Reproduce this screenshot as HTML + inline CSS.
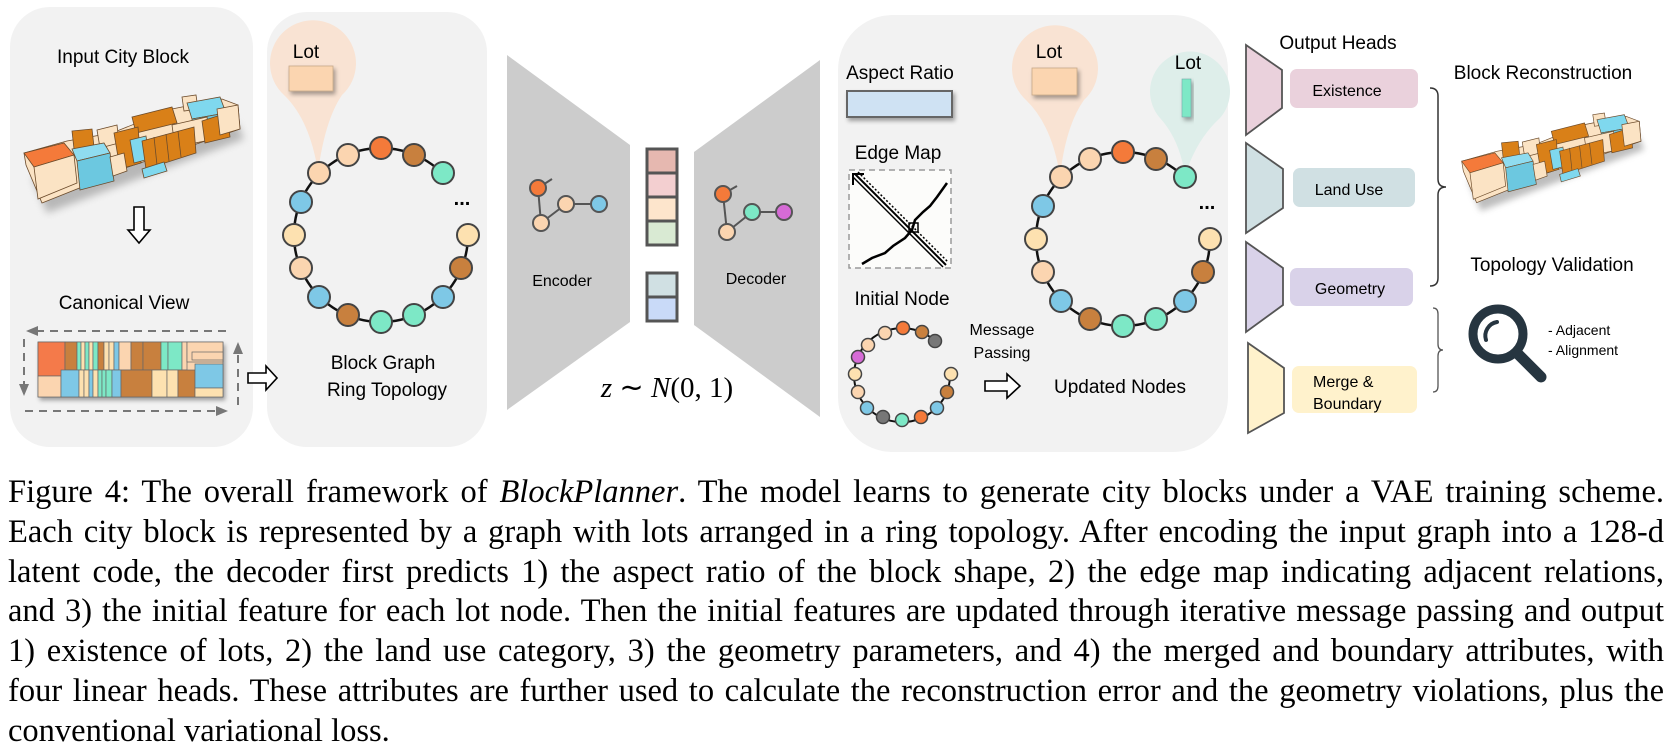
<!DOCTYPE html>
<html><head><meta charset="utf-8">
<style>
html,body{margin:0;padding:0;background:#fff;}
body{width:1671px;height:753px;position:relative;overflow:hidden;}
svg{position:absolute;left:0;top:0;}
.cap{position:absolute;left:8px;top:473px;width:1656px;font-family:"Liberation Serif",serif;font-size:32.5px;line-height:39.8px;color:#000;}
.cap div{text-align:justify;text-align-last:justify;white-space:nowrap;}
.cap div.l{text-align-last:left;}
</style></head><body>
<svg width="1671" height="460" viewBox="0 0 1671 460" font-family="Liberation Sans, sans-serif">
<defs>
<filter id="bl" x="-20%" y="-20%" width="140%" height="160%"><feGaussianBlur stdDeviation="4"/></filter>
<filter id="sh" x="-30%" y="-30%" width="160%" height="160%"><feDropShadow dx="2" dy="3" stdDeviation="2" flood-color="#000" flood-opacity="0.35"/></filter>
<g id="blk" stroke="#6b4a2a" stroke-width="0.8">
<polygon points="10,82 215,28 222,44 25,118" fill="#888" opacity="0.55" filter="url(#bl)" stroke="none"/>
<polygon points="2,58 45,46 90,38 150,14 200,4 216,10 218,34 160,54 100,74 60,92 20,108 4,70" fill="#fbe3c4"/>
<polygon points="160,2 174,0 176,14 162,16" fill="#fbe3c4"/>
<polygon points="165,8 198,2 204,18 170,24" fill="#7fd8ee"/>
<polygon points="170,24 204,18 206,32 172,38" fill="#6cc8e0"/>
<polygon points="110,22 150,12 155,28 114,38" fill="#d98018"/>
<polygon points="75,35 95,30 97,48 78,53" fill="#fbe3c4"/>
<polygon points="50,36 70,34 72,52 52,54" fill="#d98018"/>
<polygon points="150,30 185,22 188,45 153,52" fill="#fbe3c4"/>
<polygon points="180,26 205,18 208,42 183,48" fill="#d98018"/>
<polygon points="195,14 216,10 218,34 198,40" fill="#fbe3c4"/>
<polygon points="92,38 116,32 119,68 98,74" fill="#d98018"/>
<polygon points="108,45 124,41 127,64 112,68" fill="#7fd8ee"/>
<polygon points="120,46 172,32 174,58 124,74" fill="#d98018"/>
<line x1="132" y1="42" x2="135" y2="70"/><line x1="144" y1="39" x2="147" y2="66"/><line x1="156" y1="36" x2="159" y2="62"/>
<polygon points="120,74 142,67 145,76 122,83" fill="#7fd8ee"/>
<polygon points="2,58 42,48 52,60 12,72" fill="#f47a3a"/>
<polygon points="12,72 52,60 55,88 16,104" fill="#fbe3c4"/>
<polygon points="50,54 82,48 88,58 55,66" fill="#8fdcf0"/>
<polygon points="55,66 88,58 92,86 58,95" fill="#6cc8e0"/>
<polygon points="88,62 102,58 105,76 91,81" fill="#fbe3c4"/>
</g>
<g id="ring">
<path d="M87,0 A87,87 0 1 1 61.5,-61.5" fill="none" stroke="#111" stroke-width="2.5"/>
<g stroke="#444" stroke-width="2">
<circle cx="0" cy="-87" r="11" fill="#f47a3a"/>
<circle cx="33" cy="-80" r="11" fill="#c8803e"/>
<circle cx="62" cy="-62" r="11" fill="#7de8c6"/>
<circle cx="87" cy="0" r="11" fill="#fde1b0"/>
<circle cx="80" cy="33" r="11" fill="#c8803e"/>
<circle cx="62" cy="62" r="11" fill="#7ec8e6"/>
<circle cx="33" cy="80" r="11" fill="#7de8c6"/>
<circle cx="0" cy="87" r="11" fill="#7de8c6"/>
<circle cx="-33" cy="80" r="11" fill="#c8803e"/>
<circle cx="-62" cy="62" r="11" fill="#7ec8e6"/>
<circle cx="-80" cy="33" r="11" fill="#fbd5b0"/>
<circle cx="-87" cy="0" r="11" fill="#fde1b0"/>
<circle cx="-80" cy="-33" r="11" fill="#7ec8e6"/>
<circle cx="-62" cy="-62" r="11" fill="#fbd5b0"/>
<circle cx="-33" cy="-80" r="11" fill="#fbd5b0"/>
</g>
</g>
</defs>

<rect x="10" y="7" width="243" height="440" rx="40" fill="#f2f2f2"/>
<rect x="267" y="12" width="220" height="435" rx="40" fill="#f2f2f2"/>
<rect x="838" y="15" width="390" height="437" rx="55" fill="#f2f2f2"/>

<text x="123" y="63" font-size="19" text-anchor="middle">Input City Block</text>
<use href="#blk" transform="translate(22,95)"/>
<polygon points="134,207 144,207 144,230 150,230 139,243 128,230 134,230" fill="#fff" stroke="#000" stroke-width="1.6"/>
<text x="124" y="309" font-size="19" text-anchor="middle">Canonical View</text>
<g stroke="#666" stroke-width="0.7">
<rect x="38" y="342" width="185" height="55" fill="#fbd5b0" filter="url(#sh)"/>
<rect x="38" y="342" width="27" height="34" fill="#f47a4a"/>
<rect x="65" y="342" width="12" height="28" fill="#c8803e"/>
<rect x="77" y="342" width="4" height="28" fill="#7de8c6"/><rect x="81" y="342" width="4" height="28" fill="#fde1b0"/><rect x="85" y="342" width="4" height="28" fill="#7de8c6"/><rect x="89" y="342" width="4" height="28" fill="#fde1b0"/><rect x="93" y="342" width="5" height="28" fill="#7de8c6"/><rect x="98" y="342" width="6" height="28" fill="#c8803e"/><rect x="104" y="342" width="5" height="28" fill="#fde1b0"/><rect x="109" y="342" width="5" height="28" fill="#fde1b0"/><rect x="114" y="342" width="5" height="28" fill="#7ec8e6"/>
<rect x="119" y="342" width="12" height="28" fill="#fbd5b0"/><rect x="131" y="342" width="12" height="28" fill="#c8803e"/><rect x="143" y="342" width="18" height="28" fill="#c8803e"/>
<rect x="161" y="342" width="7" height="28" fill="#7de8c6"/><rect x="168" y="342" width="14" height="28" fill="#7de8c6"/><rect x="182" y="342" width="5" height="28" fill="#fbd5b0"/>
<rect x="187" y="342" width="36" height="20" fill="#fbd5b0"/><rect x="192" y="352" width="31" height="8" fill="#fbd5b0"/>
<rect x="38" y="376" width="23" height="21" fill="#fbd5b0"/>
<rect x="61" y="370" width="18" height="27" fill="#7ec8e6"/><rect x="79" y="370" width="5" height="27" fill="#fde1b0"/><rect x="84" y="370" width="5" height="27" fill="#fde1b0"/><rect x="89" y="370" width="4" height="27" fill="#7ec8e6"/><rect x="93" y="370" width="5" height="27" fill="#fde1b0"/><rect x="98" y="370" width="4" height="27" fill="#7de8c6"/><rect x="102" y="370" width="4" height="27" fill="#7de8c6"/><rect x="106" y="370" width="6" height="27" fill="#7de8c6"/><rect x="112" y="370" width="9" height="27" fill="#7ec8e6"/>
<rect x="121" y="370" width="31" height="27" fill="#c8803e"/><rect x="152" y="370" width="15" height="27" fill="#fde1b0"/><rect x="167" y="370" width="11" height="27" fill="#fde1b0"/><rect x="178" y="370" width="17" height="27" fill="#c8803e"/>
<rect x="195" y="364" width="28" height="24" fill="#7ec8e6"/><rect x="195" y="388" width="28" height="9" fill="#fde1b0"/>
</g>
<g stroke="#777" stroke-width="2" stroke-dasharray="8,6" fill="none">
<line x1="36" y1="331" x2="228" y2="331"/><line x1="24" y1="339" x2="24" y2="385"/>
<line x1="25" y1="411" x2="216" y2="411"/><line x1="238" y1="355" x2="238" y2="405"/>
</g>
<g fill="#777"><polygon points="26,331 38,326 38,336"/><polygon points="228,411 216,406 216,416"/><polygon points="24,396 19,384 29,384"/><polygon points="238,342 233,354 243,354"/></g>
<polygon points="248,373 266,373 266,366 277,378 266,390 266,383 248,383" fill="#fff" stroke="#000" stroke-width="1.6"/>

<path d="M284,95 A43,43 0 1 1 342,95 Q325,120 318,172 Q310,120 284,95 Z" fill="#f9e3d3"/>
<text x="306" y="58" font-size="19" text-anchor="middle">Lot</text>
<rect x="289" y="66" width="44" height="25" fill="#fbd5b0" stroke="#c9a98a" stroke-width="0.8" filter="url(#sh)"/>
<use href="#ring" transform="translate(381,235)"/>
<rect x="452" y="192" width="35" height="16" fill="#f2f2f2"/>
<text x="462" y="205" font-size="20" text-anchor="middle" font-weight="bold">...</text>
<text x="383" y="369" font-size="19" text-anchor="middle">Block Graph</text>
<text x="387" y="396" font-size="19" text-anchor="middle">Ring Topology</text>

<polygon points="507,55 630,145 630,322 507,410" fill="#cccccc"/>
<polygon points="694,152 820,60 820,417 694,325" fill="#cccccc"/>
<g stroke="#555" stroke-width="2"><line x1="538" y1="188" x2="552" y2="179"/><line x1="538" y1="188" x2="541" y2="223"/><line x1="541" y1="223" x2="566" y2="204"/><line x1="566" y1="204" x2="599" y2="204"/>
<circle cx="538" cy="188" r="8" fill="#f47a3a"/><circle cx="541" cy="223" r="8" fill="#fbd5b0"/><circle cx="566" cy="204" r="8" fill="#fbd5b0"/><circle cx="599" cy="204" r="8" fill="#7ec8e6"/></g>
<g stroke="#555" stroke-width="2"><line x1="723" y1="194" x2="737" y2="186"/><line x1="723" y1="194" x2="727" y2="232"/><line x1="727" y1="232" x2="752" y2="212"/><line x1="752" y1="212" x2="784" y2="212"/>
<circle cx="723" cy="194" r="8" fill="#f47a3a"/><circle cx="727" cy="232" r="8" fill="#fbd5b0"/><circle cx="752" cy="212" r="8" fill="#7de8c6"/><circle cx="784" cy="212" r="8" fill="#d66bd6"/></g>
<text x="562" y="286" font-size="16" text-anchor="middle">Encoder</text>
<text x="756" y="284" font-size="16" text-anchor="middle">Decoder</text>
<g stroke="#555" stroke-width="3">
<rect x="647" y="149" width="30" height="24" fill="#e6b8b0"/><rect x="647" y="173" width="30" height="24" fill="#f3cfd0"/><rect x="647" y="197" width="30" height="24" fill="#fde5cc"/><rect x="647" y="221" width="30" height="24" fill="#d9ead3"/>
<rect x="647" y="273" width="30" height="24" fill="#d0e0e3"/><rect x="647" y="297" width="30" height="24" fill="#c9daf8"/>
</g>
<text x="667" y="397" font-size="29" text-anchor="middle" font-family="Liberation Serif, serif"><tspan font-style="italic">z</tspan> ∼ <tspan font-style="italic">N</tspan>(0, 1)</text>

<text x="900" y="79" font-size="19" text-anchor="middle">Aspect Ratio</text>
<rect x="847" y="91" width="105" height="26" fill="#cfe2f3" stroke="#666" stroke-width="2" filter="url(#sh)"/>
<text x="898" y="159" font-size="19" text-anchor="middle">Edge Map</text>
<rect x="849" y="170" width="102" height="98" fill="#fcfcfa" stroke="#999" stroke-width="1.5" stroke-dasharray="6,4"/>
<g stroke="#000" fill="none">
<line x1="855" y1="174" x2="946" y2="265" stroke-width="2"/><line x1="858" y1="172" x2="948" y2="262" stroke-width="1.5" stroke-dasharray="2,2"/><line x1="853" y1="177" x2="943" y2="267" stroke-width="1.5"/>
<polyline points="862,264 872,258 885,253 893,246 905,238 912,230 915,220 923,212 930,206 937,197 942,190 947,183" stroke-width="2.5"/>
<rect x="909" y="223" width="9" height="9" stroke-width="1.5"/>
<polyline points="853,185 853,174 864,174" stroke-width="2"/>
</g>
<text x="902" y="305" font-size="19" text-anchor="middle">Initial Node</text>
<path d="M950,374 A48,47 0 1 1 935,341" fill="none" stroke="#111" stroke-width="2"/>
<g stroke="#444" stroke-width="1.5">
<circle cx="903" cy="328" r="6.5" fill="#f47a3a"/><circle cx="922" cy="332" r="6.5" fill="#c8803e"/><circle cx="935" cy="341" r="6.5" fill="#777"/>
<circle cx="951" cy="374" r="6.5" fill="#fde1b0"/><circle cx="947" cy="392" r="6.5" fill="#c8803e"/><circle cx="937" cy="408" r="6.5" fill="#7ec8e6"/>
<circle cx="921" cy="417" r="6.5" fill="#f47a3a"/><circle cx="902" cy="420" r="6.5" fill="#7de8c6"/><circle cx="883" cy="417" r="6.5" fill="#777"/>
<circle cx="867" cy="408" r="6.5" fill="#7ec8e6"/><circle cx="858" cy="392" r="6.5" fill="#fbd5b0"/><circle cx="855" cy="374" r="6.5" fill="#fde1b0"/>
<circle cx="858" cy="357" r="6.5" fill="#d66bd6"/><circle cx="868" cy="345" r="6.5" fill="#fbd5b0"/><circle cx="885" cy="333" r="6.5" fill="#fbd5b0"/>
</g>
<text x="1002" y="335" font-size="16" text-anchor="middle">Message</text>
<text x="1002" y="358" font-size="16" text-anchor="middle">Passing</text>
<polygon points="985,381 1007,381 1007,374 1020,386 1007,398 1007,391 985,391" fill="#fff" stroke="#000" stroke-width="1.6"/>
<text x="1120" y="393" font-size="19" text-anchor="middle">Updated Nodes</text>

<path d="M1026,100 A43,43 0 1 1 1084,100 Q1066,125 1060,176 Q1052,125 1026,100 Z" fill="#f9e3d3"/>
<path d="M1160,118 A40,40 0 1 1 1220,118 Q1196,140 1185,176 Q1180,140 1160,118 Z" fill="#deeeea"/>
<text x="1049" y="58" font-size="19" text-anchor="middle">Lot</text>
<rect x="1032" y="68" width="45" height="27" fill="#fbd5b0" stroke="#c9a98a" stroke-width="0.8" filter="url(#sh)"/>
<text x="1188" y="69" font-size="19" text-anchor="middle">Lot</text>
<rect x="1182" y="79" width="9" height="38" fill="#7de8c6" stroke="#7aa" stroke-width="0.6" filter="url(#sh)"/>
<use href="#ring" transform="translate(1123,239)"/>
<rect x="1195" y="196" width="33" height="16" fill="#f2f2f2"/>
<text x="1207" y="209" font-size="20" text-anchor="middle" font-weight="bold">...</text>

<text x="1338" y="49" font-size="19" text-anchor="middle">Output Heads</text>
<g stroke="#555" stroke-width="1.8">
<polygon points="1246,45 1282,70 1282,108 1246,135" fill="#ead1dc"/>
<polygon points="1246,143 1283,169 1283,208 1246,233" fill="#d0e0e3"/>
<polygon points="1246,242 1283,268 1283,305 1246,332" fill="#d9d2e9"/>
<polygon points="1248,343 1284,368 1284,413 1248,433" fill="#fff2cc"/>
</g>
<rect x="1290" y="69" width="128" height="39" rx="7" fill="#ead1dc"/>
<rect x="1293" y="168" width="122" height="39" rx="7" fill="#d0e0e3"/>
<rect x="1290" y="268" width="123" height="38" rx="7" fill="#d9d2e9"/>
<rect x="1292" y="366" width="125" height="47" rx="7" fill="#fff2cc"/>
<text x="1347" y="96" font-size="16" text-anchor="middle">Existence</text>
<text x="1349" y="195" font-size="16" text-anchor="middle">Land Use</text>
<text x="1350" y="294" font-size="16" text-anchor="middle">Geometry</text>
<text x="1313" y="387" font-size="16">Merge &amp;</text>
<text x="1313" y="409" font-size="16">Boundary</text>

<path d="M1430,88 q8,0 8,8 v83 q0,8 8,8 q-8,0 -8,8 v83 q0,8 -8,8" fill="none" stroke="#333" stroke-width="1.5"/>
<path d="M1433,308 q5,0 5,6 v30 q0,6 5,6 q-5,0 -5,6 v30 q0,6 -5,6" fill="none" stroke="#555" stroke-width="1.3"/>
<text x="1543" y="79" font-size="19" text-anchor="middle">Block Reconstruction</text>
<use href="#blk" transform="translate(1460,113) scale(0.83)"/>
<text x="1552" y="271" font-size="19" text-anchor="middle">Topology Validation</text>
<circle cx="1498" cy="334" r="25" fill="none" stroke="#263540" stroke-width="9"/>
<path d="M1486,340 A14,14 0 0 1 1497,322" fill="none" stroke="#263540" stroke-width="4" stroke-linecap="round"/>
<line x1="1518" y1="354" x2="1541" y2="377" stroke="#263540" stroke-width="11" stroke-linecap="round"/>
<text x="1548" y="335" font-size="14">-  Adjacent</text>
<text x="1548" y="355" font-size="14">-  Alignment</text>
</svg>
<div class="cap">
<div>Figure 4: The overall framework of <i>BlockPlanner</i>. The model learns to generate city blocks under a VAE training scheme.</div>
<div>Each city block is represented by a graph with lots arranged in a ring topology. After encoding the input graph into a 128-d</div>
<div>latent code, the decoder first predicts 1) the aspect ratio of the block shape, 2) the edge map indicating adjacent relations,</div>
<div>and 3) the initial feature for each lot node. Then the initial features are updated through iterative message passing and output</div>
<div>1) existence of lots, 2) the land use category, 3) the geometry parameters, and 4) the merged and boundary attributes, with</div>
<div>four linear heads. These attributes are further used to calculate the reconstruction error and the geometry violations, plus the</div>
<div class="l">conventional variational loss.</div>
</div>
</body></html>
